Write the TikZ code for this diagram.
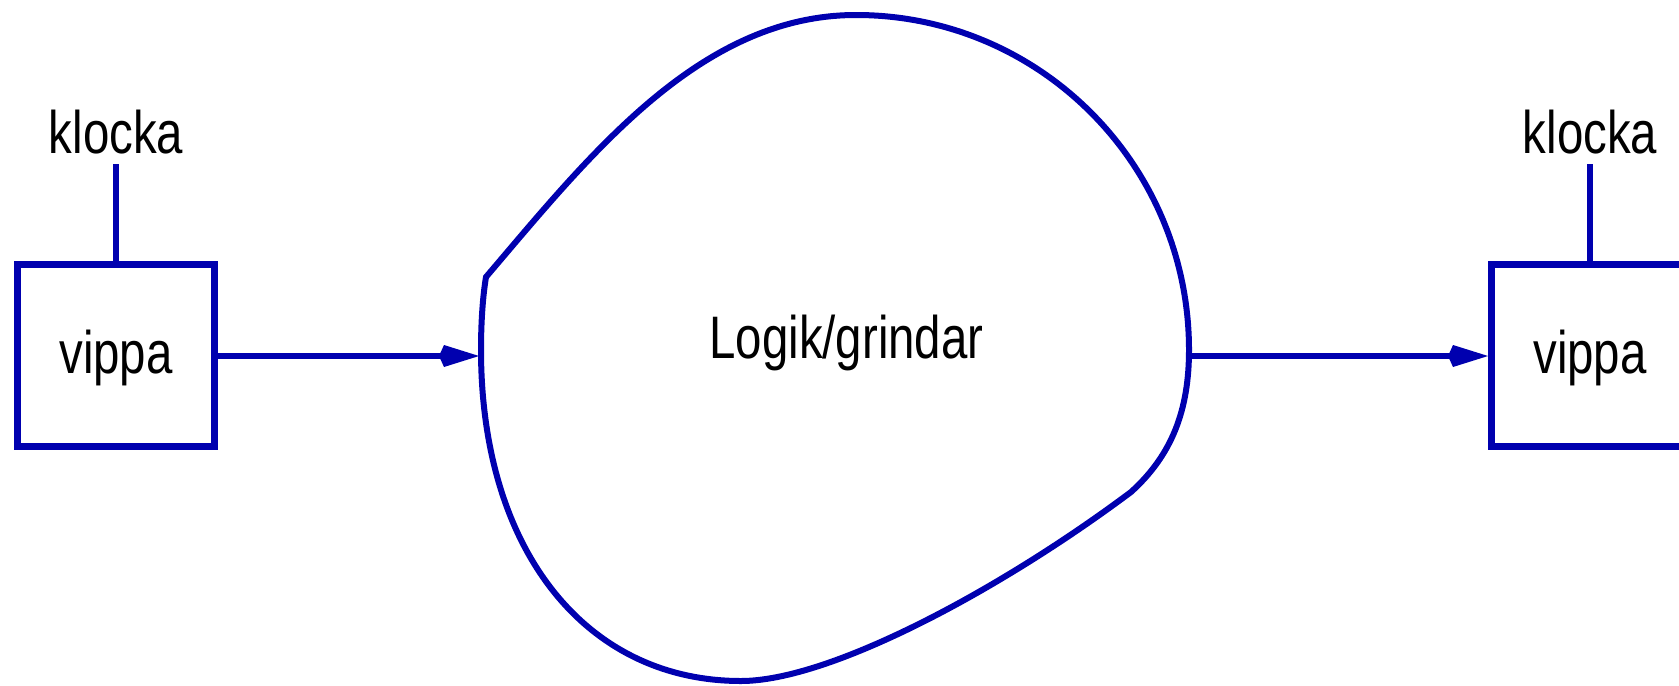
\documentclass[tikz,border=0pt]{standalone}
\usepackage{fontspec}
\setmainfont{Liberation Sans}[FakeStretch=0.79]
\usetikzlibrary{arrows.meta}
\definecolor{dblue}{RGB}{0,0,175}
\begin{document}
\begin{tikzpicture}[x=0.5pt,y=-0.5pt,
  lab/.style={font=\fontsize{30}{36}\selectfont, inner sep=0pt, anchor=base},
  ffbox/.style={draw=dblue, line width=3.5pt, minimum width=98.5pt, minimum height=91pt,
    inner sep=0pt, font=\fontsize{30}{36}\selectfont, text height=17.5pt, text depth=0pt},
  conn/.style={draw=dblue, line width=3pt},
  arr/.style={conn, -{Kite[length=20pt,width=11pt,inset=2.5pt]}},
  blob/.style={draw=dblue, line width=3pt, line join=miter}
]
\useasboundingbox (0,0) rectangle (1679,685);
% logic cloud
\draw[blob] (486,277) .. controls (590,155) and (700,15) .. (856,15)
  .. controls (1040,15) and (1189,165) .. (1189,350)
  .. controls (1189,410) and (1172,455) .. (1131,492)
  .. controls (1000,590) and (830,681) .. (741,681)
  .. controls (585,681) and (481,549) .. (481,350)
  .. controls (481,320) and (483,295) .. cycle;
\node[lab] (logic) at (846.5,358) {Logik/grindar};
\coordinate (bin) at (479,356);
\coordinate (bout) at (1190,356);
% flip-flops
\node[ffbox] (vl) at (116,355.5) {vippa};
\node[ffbox] (vr) at (1590,355.5) {vippa};
\node[lab] (kl) at (116,153) {klocka};
\node[lab] (kr) at (1590,153) {klocka};
\coordinate (cl) at (116,164);
\coordinate (cr) at (1590,164);
\draw[conn] (cl) -- (vl.north);
\draw[conn] (cr) -- (vr.north);
% connectors
\draw[arr] (vl.east |- bin) -- (bin);
\draw[arr] (bout) -- (vr.west |- bout);
\end{tikzpicture}
\end{document}
